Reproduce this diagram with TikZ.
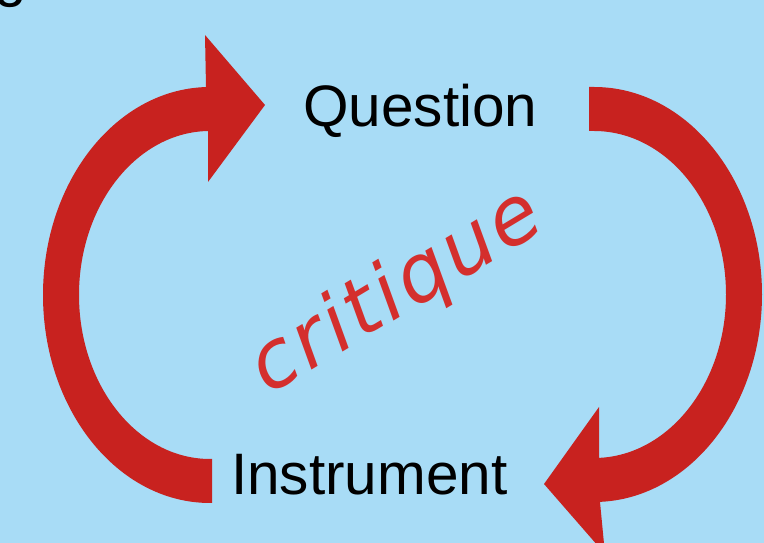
\documentclass[tikz,border=0pt]{standalone}
\usepackage{fontspec}
\setmainfont{Liberation Sans}
\newfontfamily\handfont{DejaVu Sans}[LetterSpace=4]
\definecolor{bgblue}{RGB}{168,220,246}
\definecolor{arrowred}{RGB}{200,34,31}
\definecolor{textred}{RGB}{212,47,45}
\tikzset{
  bigarrow/.style={fill=arrowred, draw=none},
  label/.style={inner sep=0pt, font=\fontsize{58.5}{62}\selectfont, text=black},
  handtext/.style={inner sep=0pt, font=\handfont\itshape\fontsize{80}{90}\selectfont, text=textred}
}
\begin{document}
\begin{tikzpicture}[x=1pt,y=1pt]
\useasboundingbox (0,0) rectangle (764,543);
\clip (0,0) rectangle (764,543);
\fill[bgblue] (0,0) rectangle (764,543);
% fragment of title text at top-left
\node[label, anchor=base west] (title) at (-6,547) {g};
% left arrow (up, into Question)
\path[bigarrow] (212,84) -- (212,40) -- (210,40)
  arc[start angle=270, end angle=90, x radius=167, y radius=208]
  -- (206,456) -- (205,508) -- (265,438) -- (208,361) -- (208,412) -- (210,412)
  arc[start angle=90, end angle=270, x radius=131, y radius=164]
  -- cycle;
% right arrow (down, into Instrument)
\path[bigarrow] (589,456) -- (594,456)
  arc[start angle=90, end angle=-90, x radius=168, y radius=207.5]
  -- (600,41) -- (605,-11) -- (544,59) -- (599,136) -- (599,85) -- (594,85)
  arc[start angle=-90, end angle=90, x radius=132, y radius=163.5]
  -- (589,412) -- cycle;
\node[label, anchor=base west] (question) at (303,416) {Question};
\node[label, anchor=base west] (instrument) at (231,48) {Instrument};
\node[handtext, rotate=31] (critique) at (397,250) {critique};
\end{tikzpicture}
\end{document}
